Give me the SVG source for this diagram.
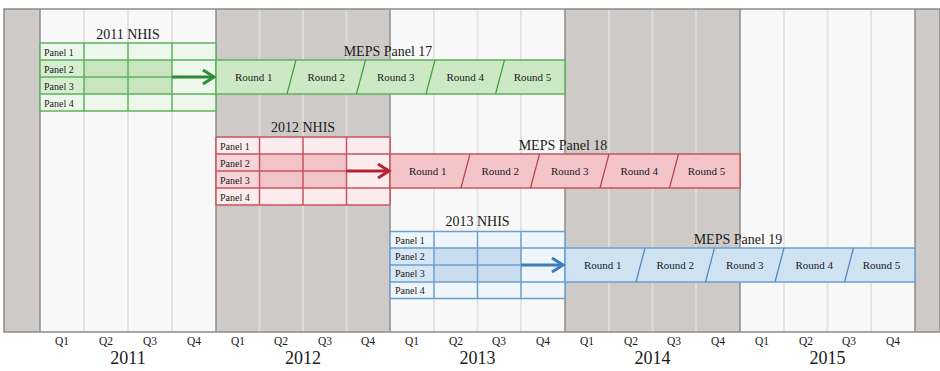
<svg xmlns="http://www.w3.org/2000/svg" width="940" height="371" viewBox="0 0 940 371">
<style>
text{font-family:"Liberation Serif","Times New Roman",serif;fill:#1a1a1a}
.q{font-size:11.5px;text-anchor:middle}
.yr{font-size:18px;text-anchor:middle}
.ttl{font-size:14px;text-anchor:middle}
.pl{font-size:10px}
.rd{font-size:11px;text-anchor:middle}
.qlw{stroke:#e4e4e4;stroke-width:2}
.qlg{stroke:#dedbd8;stroke-width:2}
.yb{stroke:#8c8c8c;stroke-width:1.5}
.g .grid{stroke:#5cb35c;stroke-width:1.5;fill:none}
.r .grid{stroke:#c9535f;stroke-width:1.5;fill:none}
.b .grid{stroke:#6c9fcf;stroke-width:1.5;fill:none}
.g .sep{stroke:#3f9f3f;stroke-width:1.2}
.r .sep{stroke:#b8404c;stroke-width:1.2}
.b .sep{stroke:#4f86bb;stroke-width:1.2}
</style>
<defs>
<marker id="ag" markerUnits="userSpaceOnUse" markerWidth="16" markerHeight="20" refX="13" refY="8" orient="auto"><path d="M2,1 L13,8 L2,15" fill="none" stroke="#2e8b36" stroke-width="3"/></marker>
<marker id="ar" markerUnits="userSpaceOnUse" markerWidth="16" markerHeight="20" refX="13" refY="8" orient="auto"><path d="M2,1 L13,8 L2,15" fill="none" stroke="#b3242e" stroke-width="3"/></marker>
<marker id="ab" markerUnits="userSpaceOnUse" markerWidth="16" markerHeight="20" refX="13" refY="8" orient="auto"><path d="M2,1 L13,8 L2,15" fill="none" stroke="#3d7db8" stroke-width="3"/></marker>
</defs>
<rect x="0" y="0" width="940" height="371" fill="#ffffff"/>
<g id="background">
<rect x="4" y="9" width="936" height="323" fill="#cdcac7"/>
<rect x="40" y="9" width="176" height="323" fill="#f8f8f8"/>
<rect x="390" y="9" width="175" height="323" fill="#f8f8f8"/>
<rect x="740" y="9" width="175" height="323" fill="#f8f8f8"/>
<g class="qlw"><line x1="84" y1="9" x2="84" y2="332"/><line x1="128" y1="9" x2="128" y2="332"/><line x1="172" y1="9" x2="172" y2="332"/>
<line x1="434" y1="9" x2="434" y2="332"/><line x1="477.5" y1="9" x2="477.5" y2="332"/><line x1="521" y1="9" x2="521" y2="332"/>
<line x1="784" y1="9" x2="784" y2="332"/><line x1="827.5" y1="9" x2="827.5" y2="332"/><line x1="871" y1="9" x2="871" y2="332"/></g>
<g class="qlg"><line x1="259.5" y1="9" x2="259.5" y2="332"/><line x1="303" y1="9" x2="303" y2="332"/><line x1="346.5" y1="9" x2="346.5" y2="332"/>
<line x1="609" y1="9" x2="609" y2="332"/><line x1="652.5" y1="9" x2="652.5" y2="332"/><line x1="696" y1="9" x2="696" y2="332"/></g>
<g class="yb"><line x1="40" y1="9" x2="40" y2="332"/><line x1="216" y1="9" x2="216" y2="332"/><line x1="390" y1="9" x2="390" y2="332"/><line x1="565" y1="9" x2="565" y2="332"/><line x1="740" y1="9" x2="740" y2="332"/><line x1="915" y1="9" x2="915" y2="332"/></g>
<rect x="4" y="9" width="936" height="323" fill="none" stroke="#8c8c8c" stroke-width="1.5"/>
</g>
<g id="axis">
<text class="q" x="62" y="345">Q1</text><text class="q" x="106" y="345">Q2</text><text class="q" x="150" y="345">Q3</text><text class="q" x="194" y="345">Q4</text>
<text class="q" x="238" y="345">Q1</text><text class="q" x="281" y="345">Q2</text><text class="q" x="325" y="345">Q3</text><text class="q" x="368" y="345">Q4</text>
<text class="q" x="412" y="345">Q1</text><text class="q" x="456" y="345">Q2</text><text class="q" x="499" y="345">Q3</text><text class="q" x="543" y="345">Q4</text>
<text class="q" x="587" y="345">Q1</text><text class="q" x="631" y="345">Q2</text><text class="q" x="674" y="345">Q3</text><text class="q" x="718" y="345">Q4</text>
<text class="q" x="762" y="345">Q1</text><text class="q" x="806" y="345">Q2</text><text class="q" x="849" y="345">Q3</text><text class="q" x="893" y="345">Q4</text>
<text class="yr" x="128" y="364">2011</text><text class="yr" x="303" y="364">2012</text><text class="yr" x="477.5" y="364">2013</text><text class="yr" x="652.5" y="364">2014</text><text class="yr" x="827.5" y="364">2015</text>
</g>

<g id="nhis2011" class="g">
<text class="ttl" x="128" y="39">2011 NHIS</text>
<rect x="40" y="43" width="176" height="68" fill="#eef7eb"/>
<rect x="40" y="60" width="44" height="34" fill="#d7edd1"/>
<rect x="84" y="60" width="88" height="34" fill="#c8e5c0"/>
<path class="grid" d="M40,43H216M40,60H216M40,77H216M40,94H216M40,111H216M40,43V111M84,43V111M128,43V111M172,43V111M216,43V111"/>
<text class="pl" x="44" y="55.5">Panel 1</text><text class="pl" x="44" y="72.5">Panel 2</text><text class="pl" x="44" y="89.5">Panel 3</text><text class="pl" x="44" y="106.5">Panel 4</text>
</g>
<g id="meps17" class="g">
<text class="ttl" x="388" y="56">MEPS Panel 17</text>
<rect class="grid" x="216" y="60" width="349" height="34" fill="#cde8c5" style="fill:#cde8c5"/>
<path class="sep" d="M287,94L296,60M356.5,94L365.5,60M426,94L435,60M495.5,94L504.5,60"/>
<text class="rd" x="253.7" y="81">Round 1</text><text class="rd" x="326.2" y="81">Round 2</text><text class="rd" x="395.7" y="81">Round 3</text><text class="rd" x="465.2" y="81">Round 4</text><text class="rd" x="532.5" y="81">Round 5</text>
</g>

<g id="nhis2012" class="r">
<text class="ttl" x="303" y="132">2012 NHIS</text>
<rect x="216" y="137" width="174" height="68" fill="#fdecee"/>
<rect x="216" y="154" width="43.5" height="34" fill="#f7d4d7"/>
<rect x="259.5" y="154" width="87" height="34" fill="#f2c4c8"/>
<path class="grid" d="M216,137H390M216,154H390M216,171H390M216,188H390M216,205H390M216,137V205M259.5,137V205M303,137V205M346.5,137V205M390,137V205"/>
<text class="pl" x="220" y="149.5">Panel 1</text><text class="pl" x="220" y="166.5">Panel 2</text><text class="pl" x="220" y="183.5">Panel 3</text><text class="pl" x="220" y="200.5">Panel 4</text>
</g>
<g id="meps18" class="r">
<text class="ttl" x="563" y="150">MEPS Panel 18</text>
<rect class="grid" x="390" y="154" width="350" height="34" style="fill:#f3c5c9"/>
<path class="sep" d="M461,188L470,154M530.5,188L539.5,154M600,188L609,154M669.5,188L678.5,154"/>
<text class="rd" x="427.7" y="175">Round 1</text><text class="rd" x="500.2" y="175">Round 2</text><text class="rd" x="569.7" y="175">Round 3</text><text class="rd" x="639.2" y="175">Round 4</text><text class="rd" x="706.5" y="175">Round 5</text>
</g>

<g id="nhis2013" class="b">
<text class="ttl" x="477.5" y="226">2013 NHIS</text>
<rect x="390" y="231.5" width="175" height="67" fill="#eef5fb"/>
<rect x="390" y="248" width="44" height="34" fill="#d6e6f4"/>
<rect x="434" y="248" width="87" height="34" fill="#c9ddef"/>
<path class="grid" d="M390,231.5H565M390,248H565M390,265H565M390,282H565M390,298.5H565M390,231.5V298.5M434,231.5V298.5M477.5,231.5V298.5M521,231.5V298.5M565,231.5V298.5"/>
<text class="pl" x="395" y="243.5">Panel 1</text><text class="pl" x="395" y="260">Panel 2</text><text class="pl" x="395" y="277">Panel 3</text><text class="pl" x="395" y="293.5">Panel 4</text>
</g>
<g id="meps19" class="b">
<text class="ttl" x="738" y="244">MEPS Panel 19</text>
<rect class="grid" x="565" y="248" width="350" height="34" style="fill:#cfe2f2"/>
<path class="sep" d="M636,282L645,248M705.5,282L714.5,248M775,282L784,248M844.5,282L853.5,248"/>
<text class="rd" x="602.7" y="269">Round 1</text><text class="rd" x="675.2" y="269">Round 2</text><text class="rd" x="744.7" y="269">Round 3</text><text class="rd" x="814.2" y="269">Round 4</text><text class="rd" x="881.5" y="269">Round 5</text>
</g>

<g id="connectors" fill="none" stroke-width="3">
<line x1="172" y1="77" x2="214" y2="77" stroke="#2e8b36" marker-end="url(#ag)"/>
<line x1="346.5" y1="171" x2="389" y2="171" stroke="#b3242e" marker-end="url(#ar)"/>
<line x1="521" y1="265" x2="563" y2="265" stroke="#3d7db8" marker-end="url(#ab)"/>
</g>
</svg>
